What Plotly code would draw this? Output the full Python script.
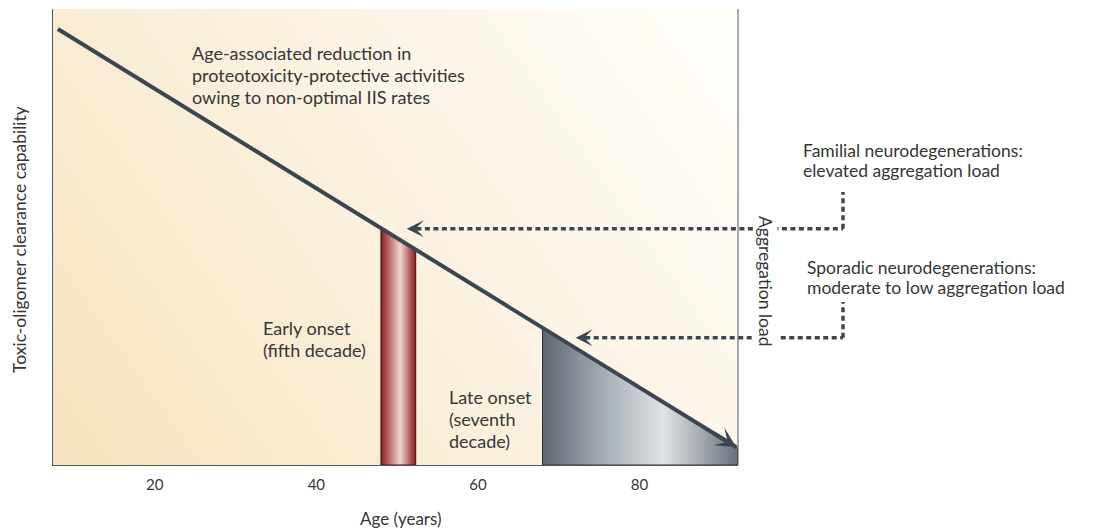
import numpy as np
import plotly.graph_objects as go

# ---- data ----
age_range = [7.4, 92.2]
capability_range = [0, 100]
line_age = [8.0, 92.0]
line_capability = [95.6, 3.9]
early_onset_age = [48.0, 52.3]
late_onset_age = [68.0, 92.2]
x_ticks = [20, 40, 60, 80]
x_tick_labels = ["20", "40", "60", "80"]
arrow_tip_age = [51.2, 72.1]
arrow_level = [51.8, 27.9]

FONT = "Lato"
TXT = "#363636"
DARK = "#3c4650"

# page offset (browser body margin) and reference plot-area geometry in page pixels
OFF = 8
PL, PR, PT, PB = 53, 738, 9, 465
W = PR - PL
H = PB - PT
FIG_W, FIG_H = 1098 - OFF, 531 - OFF


def cap_at(a):
    return line_capability[0] + (a - line_age[0]) * (line_capability[1] - line_capability[0]) / (line_age[1] - line_age[0])


def xpaper(a):
    return (a - age_range[0]) / (age_range[1] - age_range[0])


def ypaper(v):
    return (v - capability_range[0]) / (capability_range[1] - capability_range[0])


def px2x(p):
    return (p - PL) / W


def px2y(p):
    return (PB - p) / H


fig = go.Figure()

# background gradient
gx = np.linspace(age_range[0] - 2, age_range[1] + 2, 40)
gy = np.linspace(capability_range[0] - 2, capability_range[1] + 2, 30)
GX, GY = np.meshgrid((gx - gx[0]) / (gx[-1] - gx[0]), (gy - gy[0]) / (gy[-1] - gy[0]))
Z = np.clip(0.75 * GX + 0.35 * GY, 0, 1)
fig.add_trace(go.Heatmap(x=gx, y=gy, z=Z, zsmooth="best", showscale=False,
                         colorscale=[[0, "#f7e2bc"], [0.5, "#fbf0dc"], [1, "#fffdf8"]],
                         hoverinfo="skip"))

# early onset bar
e0, e1 = early_onset_age
fig.add_trace(go.Scatter(
    x=[e0, e0, e1, e1, e0], y=[0, cap_at(e0), cap_at(e1), 0, 0],
    mode="lines", fill="toself", line=dict(color="#3a1414", width=1),
    fillgradient=dict(type="horizontal",
                      colorscale=[[0, "#8c1c20"], [0.55, "#f0d6d0"], [1, "#8c1c20"]]),
    hoverinfo="skip", showlegend=False))

# late onset region
l0, l1 = late_onset_age
fig.add_trace(go.Scatter(
    x=[l0, l0, l1, l1, l0], y=[0, cap_at(l0), cap_at(l1), 0, 0],
    mode="lines", fill="toself", line=dict(color="#2c3238", width=1),
    fillgradient=dict(type="horizontal",
                      colorscale=[[0, "#5d6770"], [0.3, "#a3abb2"], [0.62, "#e0e3e6"], [1, "#65707a"]]),
    hoverinfo="skip", showlegend=False))

# main declining line
fig.add_trace(go.Scatter(x=line_age, y=line_capability, mode="lines",
                         line=dict(color=DARK, width=4), hoverinfo="skip", showlegend=False))

shapes = []
annotations = []

# arrow head of main line
annotations.append(dict(x=line_age[1], y=line_capability[1], xref="x", yref="y",
                        ax=line_age[1] - 3, ay=cap_at(line_age[1] - 3), axref="x", ayref="y",
                        showarrow=True, arrowhead=3, arrowsize=0.85, arrowwidth=4,
                        arrowcolor=DARK, text=""))

# dotted arrows
x_corner = px2x(843)
tops = [px2y(192), px2y(302)]
for tip, lev, top in zip(arrow_tip_age, arrow_level, tops):
    shapes.append(dict(type="line", xref="paper", yref="paper",
                       x0=xpaper(tip) + 0.014, x1=x_corner, y0=ypaper(lev), y1=ypaper(lev),
                       line=dict(color=DARK, width=3.5, dash="5px,3.5px")))
    shapes.append(dict(type="line", xref="paper", yref="paper",
                       x0=x_corner, x1=x_corner, y0=ypaper(lev), y1=top,
                       line=dict(color=DARK, width=3.5, dash="5px,3.5px")))
    annotations.append(dict(x=tip, y=lev, xref="x", yref="y", ax=14, ay=0,
                            showarrow=True, arrowhead=3, arrowsize=0.95, arrowwidth=3,
                            arrowcolor=DARK, text=""))

# right boundary line
shapes.append(dict(type="line", xref="paper", yref="paper", x0=1, x1=1, y0=0, y1=1,
                   line=dict(color="#555555", width=1)))


def lines(texts, left, first_center, spacing, size=18):
    for i, t in enumerate(texts):
        annotations.append(dict(text=t, x=px2x(left), y=px2y(first_center + i * spacing),
                                xref="paper", yref="paper", xanchor="left", yanchor="middle",
                                showarrow=False, font=dict(family=FONT, size=size, color=TXT)))


lines(["Age-associated reduction in", "proteotoxicity-protective activities",
       "owing to non-optimal IIS rates"], 190, 53, 22)
lines(["Early onset", "(fifth decade)"], 261, 328, 22)
lines(["Late onset", "(seventh", "decade)"], 447, 397, 22)
lines(["Familial neurodegenerations:", "elevated aggregation load"], 801, 150, 20, size=17.5)
lines(["Sporadic neurodegenerations:", "moderate to low aggregation load"], 805, 267, 20, size=17.5)

annotations.append(dict(text="Aggregation load", x=px2x(766), y=px2y(281), xref="paper", yref="paper",
                        xanchor="center", yanchor="middle", textangle=90, showarrow=False,
                        bgcolor="white", font=dict(family=FONT, size=17.5, color=TXT)))
annotations.append(dict(text="Toxic-oligomer clearance capability", x=px2x(20), y=px2y(240),
                        xref="paper", yref="paper", xanchor="center", yanchor="middle",
                        textangle=-90, showarrow=False, font=dict(family=FONT, size=17.5, color=TXT)))
annotations.append(dict(text="Age (years)", x=px2x(401), y=px2y(518), xref="paper", yref="paper",
                        xanchor="center", yanchor="middle", showarrow=False,
                        font=dict(family=FONT, size=17, color=TXT)))

fig.update_layout(
    width=FIG_W, height=FIG_H,
    margin=dict(l=PL - OFF, r=FIG_W - (PR - OFF), t=PT - OFF, b=FIG_H - (PB - OFF)),
    paper_bgcolor="white", plot_bgcolor="white",
    showlegend=False,
    shapes=shapes, annotations=annotations,
    xaxis=dict(range=age_range, tickvals=x_ticks, ticktext=x_tick_labels,
               showgrid=False, zeroline=False, showline=True, linecolor="#555555", linewidth=1,
               ticks="", ticklabelstandoff=6,
               tickfont=dict(family=FONT, size=15, color=TXT), fixedrange=True),
    yaxis=dict(range=capability_range, showticklabels=False, showgrid=False, zeroline=False,
               showline=True, linecolor="#555555", linewidth=1, ticks="", fixedrange=True),
)

fig.write_html("out.html")
